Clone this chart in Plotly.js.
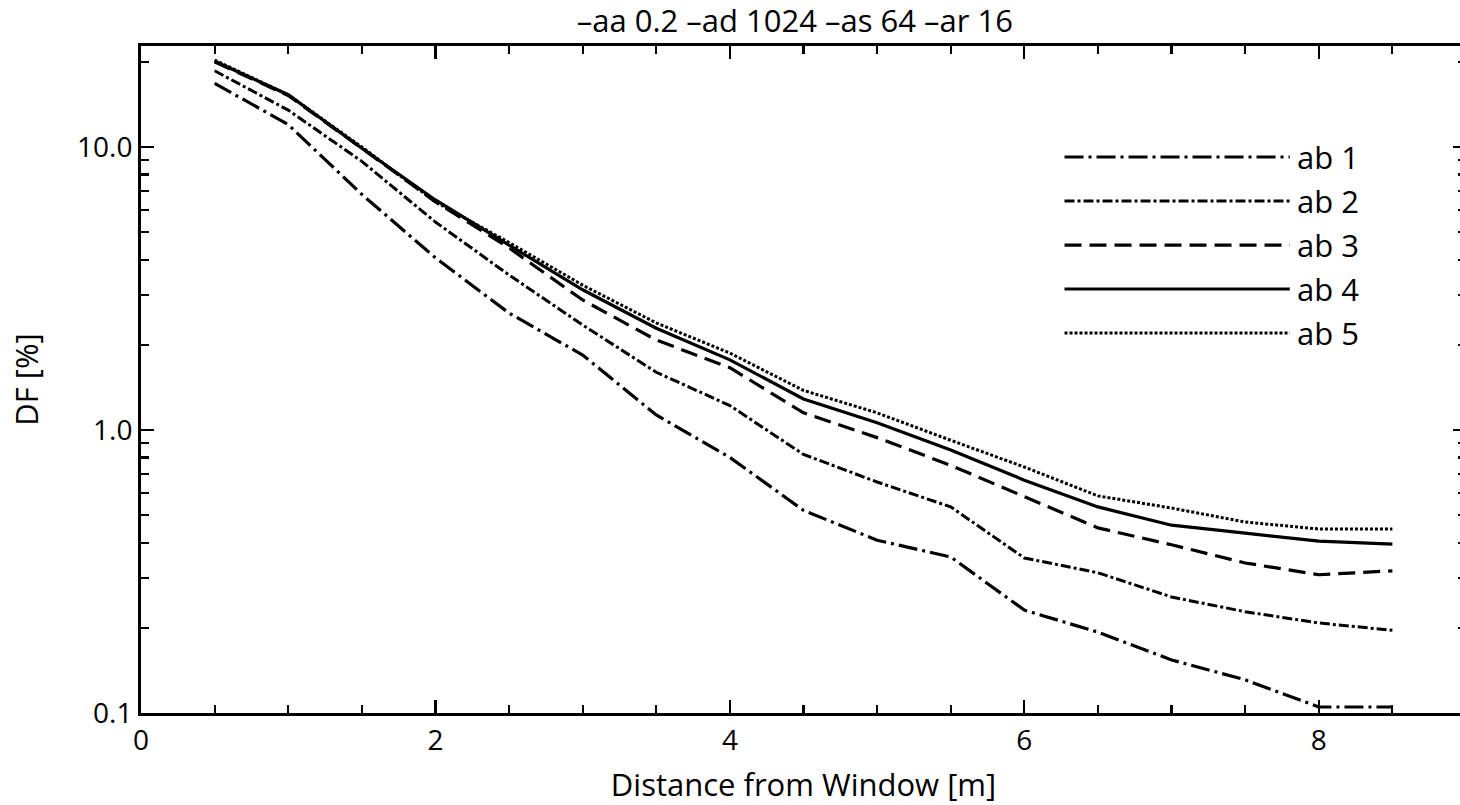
<!DOCTYPE html>
<html>
<head>
<meta charset="utf-8">
<script src="https://cdn.plot.ly/plotly-3.0.1.min.js"></script>
<style>
html,body{margin:0;padding:0;overflow:hidden;background:#fff;}
#chart{width:1472px;height:805px;}
</style>
</head>
<body>
<div id="chart"></div>
<script>
// Data
const distance = [0.5, 1, 1.5, 2, 2.5, 3, 3.5, 4, 4.5, 5, 5.5, 6, 6.5, 7, 7.5, 8, 8.5];
const seriesNames = ["ab 1", "ab 2", "ab 3", "ab 4", "ab 5"];
const ab1 = [16.8, 12.0, 6.8, 4.06, 2.59, 1.84, 1.13, 0.80, 0.52, 0.408, 0.356, 0.231, 0.193, 0.154, 0.131, 0.105, 0.105];
const ab2 = [18.6, 13.5, 8.9, 5.43, 3.53, 2.35, 1.60, 1.22, 0.82, 0.655, 0.535, 0.353, 0.313, 0.257, 0.228, 0.208, 0.196];
const ab3 = [20.0, 15.2, 9.9, 6.4, 4.4, 2.88, 2.08, 1.66, 1.15, 0.94, 0.75, 0.58, 0.451, 0.393, 0.339, 0.308, 0.318];
const ab4 = [20.1, 15.3, 9.9, 6.5, 4.5, 3.13, 2.29, 1.77, 1.287, 1.06, 0.85, 0.665, 0.535, 0.461, 0.432, 0.405, 0.395];
const ab5 = [20.3, 15.3, 10.0, 6.4, 4.6, 3.25, 2.39, 1.87, 1.38, 1.15, 0.92, 0.74, 0.585, 0.53, 0.473, 0.447, 0.447];
const xTickVals = [0, 2, 4, 6, 8];
const yTickVals = [0.1, 1, 10];
const yTickText = ["0.1", "1.0", "10.0"];
const titleText = "\u2013aa 0.2 \u2013ad 1024 \u2013as 64 \u2013ar 16";
const xTitle = "Distance from Window [m]";
const yTitle = "DF [%]";

// Styles
const allSeries = [ab1, ab2, ab3, ab4, ab5];
const dashes = ["19px,5px,3px,5px", "10px,3px,3px,3px", "17px,8px", "solid", "3px,2px"];
const widths = [3.2, 3, 3.2, 3.2, 3];
const FONT = "Open Sans, Noto Sans, sans-serif";

const traces = allSeries.map((ys, i) => ({
  x: distance, y: ys, type: "scatter", mode: "lines", name: seriesNames[i],
  line: {color: "#000", width: widths[i], dash: dashes[i]}, showlegend: false
}));

// manual legend
const legendRowsY = [0.8336, 0.7676, 0.7016, 0.6357, 0.5697];
const shapes = [];
const annotations = [];
seriesNames.forEach((n, i) => {
  shapes.push({type: "line", xref: "paper", yref: "paper", x0: 0.697, x1: 0.867,
    y0: legendRowsY[i], y1: legendRowsY[i], line: {color: "#000", width: widths[i], dash: dashes[i]}});
  annotations.push({xref: "paper", yref: "paper", x: 0.871, y: legendRowsY[i], xanchor: "left", yanchor: "middle",
    text: n, showarrow: false, font: {family: FONT, size: 31, color: "#000"}});
});

const minorY = [];
[0.1, 1, 10].forEach(d => { for (let k = 2; k <= 9; k++) minorY.push(d * k); });

const layout = {
  width: 1472, height: 805,
  margin: {l: 141, r: 6, t: 46, b: 92},
  paper_bgcolor: "#fff", plot_bgcolor: "#fff",
  font: {family: FONT, size: 28, color: "#000"},
  title: {text: titleText, x: 0.54, xanchor: "center", y: 0.974, yanchor: "middle", xref: "container",
    font: {family: FONT, size: 31, color: "#000"}},
  xaxis: {
    range: [0, 9], tickvals: xTickVals, ticktext: xTickVals.map(String),
    ticks: "inside", ticklen: 13, tickwidth: 2.2, tickcolor: "#000",
    showline: true, linewidth: 3, linecolor: "#000", mirror: "ticks",
    showgrid: false, zeroline: false,
    minor: {tickvals: distance, ticks: "inside", ticklen: 8, tickwidth: 2.2, tickcolor: "#000", showgrid: false},
    tickfont: {family: FONT, size: 28, color: "#000"},
    title: {text: xTitle, standoff: 20, font: {family: FONT, size: 31, color: "#000"}}
  },
  yaxis: {
    type: "log", range: [-1, 1.357], tickvals: yTickVals, ticktext: yTickText,
    ticks: "inside", ticklen: 13, tickwidth: 2.2, tickcolor: "#000",
    showline: true, linewidth: 3, linecolor: "#000", mirror: "ticks",
    showgrid: false, zeroline: false,
    minor: {tickvals: minorY, ticks: "inside", ticklen: 8, tickwidth: 2.2, tickcolor: "#000", showgrid: false},
    tickfont: {family: FONT, size: 28, color: "#000"},
    title: {text: yTitle, standoff: 30, font: {family: FONT, size: 31, color: "#000"}}
  },
  shapes: shapes,
  annotations: annotations
};

Plotly.newPlot("chart", traces, layout, {displayModeBar: false, staticPlot: true});
</script>
</body>
</html>
